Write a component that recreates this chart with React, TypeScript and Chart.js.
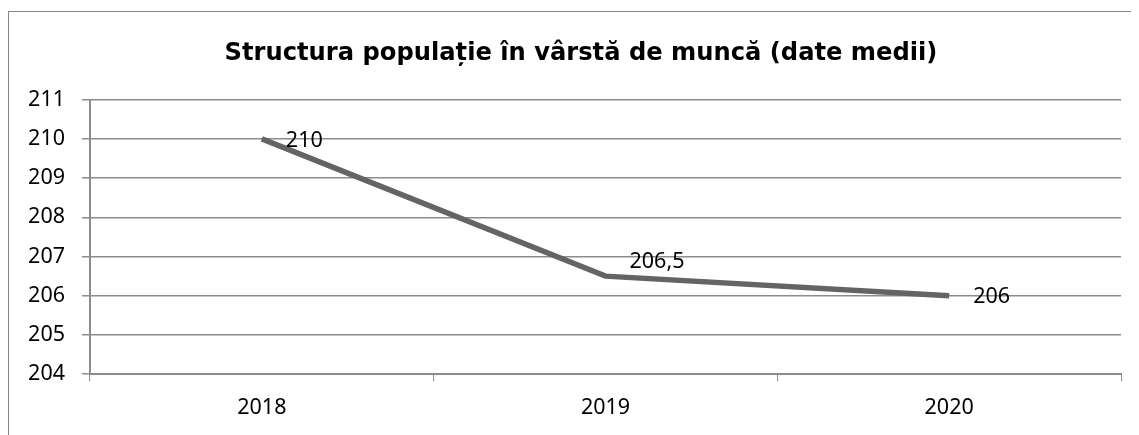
import React, { useEffect, useRef } from "react";
import { Chart, registerables } from "chart.js";

Chart.register(...registerables);

const categories = ["2018", "2019", "2020"];
const values = [210, 206.5, 206];
const valueLabels = ["210", "206,5", "206"];
const yMin = 204;
const yMax = 211;
const titleText = "Structura populație în vârstă de muncă (date medii)";

const labelOffsetsY = [2, -14, 1];

const dataLabelPlugin = {
  id: "dataLabels",
  afterDatasetsDraw(chart: any) {
    const ctx = chart.ctx;
    const meta = chart.getDatasetMeta(0);
    ctx.save();
    ctx.font = '21.5px "Noto Sans"';
    ctx.fillStyle = "#000";
    ctx.textAlign = "left";
    ctx.textBaseline = "middle";
    meta.data.forEach((pt: any, i: number) => {
      ctx.fillText(valueLabels[i], pt.x + 24, pt.y + labelOffsetsY[i]);
    });
    ctx.restore();
  },
};

const titlePlugin = {
  id: "customTitle",
  afterDraw(chart: any) {
    const ctx = chart.ctx;
    ctx.save();
    ctx.font = 'bold 24.2px "DejaVu Sans"';
    ctx.fillStyle = "#000";
    ctx.textAlign = "center";
    ctx.textBaseline = "middle";
    ctx.fillText(titleText, 572, 41.5);
    ctx.restore();
  },
};

export default function App() {
  const ref = useRef<HTMLCanvasElement | null>(null);
  useEffect(() => {
    if (!ref.current) return;
    const chart = new Chart(ref.current, {
      type: "line",
      data: {
        labels: categories,
        datasets: [
          {
            data: values,
            borderColor: "#646464",
            borderWidth: 5.5,
            pointRadius: 0,
            tension: 0,
            fill: false,
          },
        ],
      },
      options: {
        animation: false,
        responsive: false,
        layout: { padding: { left: 0, right: 18, top: 87.6, bottom: 0 } },
        plugins: {
          legend: { display: false },
          tooltip: { enabled: false },
          title: { display: false },
        },
        scales: {
          x: {
            offset: true,
            grid: {
              offset: true,
              drawOnChartArea: false,
              drawTicks: true,
              tickLength: 7,
              color: "#8c8c8c",
            },
            border: { color: "#8c8c8c", width: 2 },
            ticks: {
              color: "#000",
              padding: 16,
              font: { family: '"Noto Sans"', size: 21.5, lineHeight: 1.014 },
            },
          },
          y: {
            min: yMin,
            max: yMax,
            afterFit(scale: any) {
              scale.width = 81;
            },
            grid: {
              color: "#8c8c8c",
              lineWidth: 1.5,
              tickLength: 8,
            },
            border: { color: "#8c8c8c", width: 2 },
            ticks: {
              stepSize: 1,
              color: "#000",
              padding: 17,
              font: { family: '"Noto Sans"', size: 21.5 },
            },
          },
        },
      },
      plugins: [dataLabelPlugin, titlePlugin],
    });
    return () => chart.destroy();
  }, []);

  return (
    <div
      style={{
        marginTop: 3,
        width: 1131,
        height: 424,
        overflow: "hidden",
        borderTop: "1px solid #878787",
        borderLeft: "1px solid #878787",
        boxSizing: "border-box",
      }}
    >
      <canvas ref={ref} width={1130} height={423} style={{ display: "block" }} />
    </div>
  );
}
